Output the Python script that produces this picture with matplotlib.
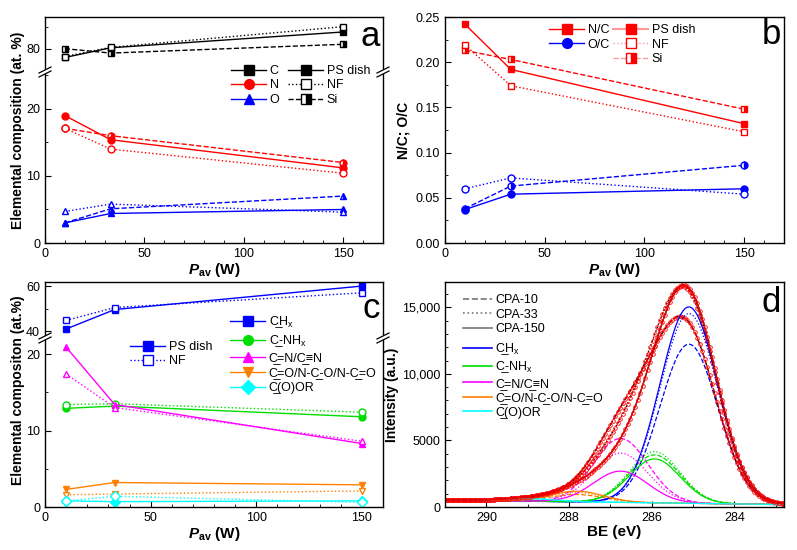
import numpy as np
import matplotlib.pyplot as plt
from matplotlib.lines import Line2D
from matplotlib.patches import Polygon
from matplotlib.ticker import MultipleLocator, FuncFormatter

plt.rcParams['font.family'] = ['Liberation Sans', 'DejaVu Sans']
plt.rcParams['mathtext.fontset'] = 'custom'
plt.rcParams['mathtext.rm'] = 'Liberation Sans'
plt.rcParams['mathtext.it'] = 'Liberation Sans:italic:bold'
plt.rcParams['mathtext.bf'] = 'Liberation Sans:bold'
plt.rcParams['font.size'] = 9

W, H = 797, 550

# ---------------- data ----------------
pav = [10, 33, 150]

# panel a: elemental composition (at. %)
c_ps = [78.0, 80.2, 83.8]
c_nf = [78.2, 80.3, 85.0]
c_si = [80.0, 79.0, 81.0]
n_ps = [19.0, 15.4, 11.2]
n_nf = [17.1, 14.0, 10.4]
n_si = [17.1, 16.0, 12.0]
o_ps = [3.0, 4.4, 5.0]
o_nf = [4.7, 5.8, 4.6]
o_si = [3.0, 5.1, 7.0]

# panel b: ratios
nc_ps = [0.242, 0.192, 0.132]
nc_nf = [0.219, 0.174, 0.123]
nc_si = [0.213, 0.203, 0.148]
oc_ps = [0.037, 0.054, 0.060]
oc_nf = [0.060, 0.072, 0.054]
oc_si = [0.038, 0.063, 0.086]

# panel c: C1s components (at. %)
ch_ps = [41.0, 49.6, 60.0]
ch_nf = [44.8, 50.5, 57.0]
cnh_ps = [12.9, 13.2, 11.8]
cnh_nf = [13.4, 13.5, 12.4]
cn_ps = [20.9, 13.4, 8.3]
cn_nf = [17.4, 13.0, 8.6]
co_ps = [2.3, 3.2, 2.9]
co_nf = [1.6, 1.7, 2.1]
coor_ps = [0.8, 0.7, 0.8]
coor_nf = [0.8, 1.4, 0.6]

# panel d: C1s fits (read peak positions / widths / heights)
samples = ['CPA-10', 'CPA-33', 'CPA-150']
comp_center = [285.1, 285.93, 286.75, 287.8, 289.0]
comp_fwhm = [1.65, 1.45, 1.55, 1.5, 1.5]
comp_height = {
    'CPA-10': [11950, 3600, 4800, 550, 200],
    'CPA-33': [14250, 3850, 3700, 700, 200],
    'CPA-150': [14750, 3300, 2350, 800, 200],
}
bg_high, bg_low = 520, 180  # background at 291 eV and 282.8 eV

# ---------------- helpers ----------------
fig = plt.figure(figsize=(W / 100, H / 100), dpi=100)


def px_axes(x0, y0, x1, y1):
    return fig.add_axes([x0 / W, 1 - y1 / H, (x1 - x0) / W, (y1 - y0) / H])


def style(ax, xminor=10, xmajor=50):
    ax.tick_params(direction='in', which='both', top=False, right=False, labelsize=9)
    ax.tick_params(which='major', length=4)
    ax.tick_params(which='minor', length=2.5)
    if xmajor:
        ax.xaxis.set_major_locator(MultipleLocator(xmajor))
        ax.xaxis.set_minor_locator(MultipleLocator(xminor))
    for s in ax.spines.values():
        s.set_linewidth(1.0)


def brk(x, y):
    f = lambda px, py: (px / W, 1 - py / H)
    poly = Polygon([f(x - 6, y + 5), f(x + 6, y - 1), f(x + 6, y - 5), f(x - 6, y + 1)],
                   closed=True, transform=fig.transFigure, facecolor='white',
                   edgecolor='none', zorder=10)
    fig.add_artist(poly)
    for dy in (0, -4):
        a, b = f(x - 6, y + 5 + dy), f(x + 6, y - 1 + dy)
        fig.add_artist(Line2D([a[0], b[0]], [a[1], b[1]], color='k', lw=0.9,
                              transform=fig.transFigure, zorder=11))


ms = 5
half = dict(fillstyle='right', markerfacecoloralt='white')


def series(ax, y, color, marker, kind, lcolor=None):
    lc = lcolor or color
    if kind == 'ps':
        ax.plot(pav, y, color=lc, ls='-', lw=1, marker=marker, ms=ms, mfc=color, mec=color, clip_on=False)
    elif kind == 'nf':
        ax.plot(pav, y, color=lc, ls=':', lw=1, marker=marker, ms=ms, mfc='white', mec=color, clip_on=False)
    else:
        ax.plot(pav, y, color=lc, ls='--', lw=1, marker=marker, ms=ms, mfc=color, mec=color,
                clip_on=False, **half)


xlab = r'$\mathit{P}_{\mathbf{av}}$ (W)'

# ---------------- panel a ----------------
a_top = px_axes(45, 17, 383, 72)
a_bot = px_axes(45, 72, 383, 243)
a_top.set_ylim(74.7, 87.2)
a_bot.set_ylim(0, 25.5)
for ax in (a_top, a_bot):
    ax.set_xlim(0, 170)
    style(ax)
a_top.spines['bottom'].set_visible(False)
a_bot.spines['top'].set_visible(False)
a_top.tick_params(which='both', bottom=False, labelbottom=False)
a_top.yaxis.set_major_locator(MultipleLocator(10))
a_top.yaxis.set_minor_locator(MultipleLocator(5))
a_bot.yaxis.set_major_locator(MultipleLocator(10))
a_bot.yaxis.set_minor_locator(MultipleLocator(5))

for kind, y in (('si', c_si), ('ps', c_ps), ('nf', c_nf)):
    series(a_top, y, 'black', 's', kind)
for kind, y in (('si', n_si), ('ps', n_ps), ('nf', n_nf)):
    series(a_bot, y, 'red', 'o', kind)
for kind, y in (('si', o_si), ('ps', o_ps), ('nf', o_nf)):
    series(a_bot, y, 'blue', '^', kind)
a_bot.set_xlabel(xlab, fontsize=11, fontweight='bold', labelpad=1)
fig.text(18 / W, 1 - 130 / H, 'Elemental composition (at. %)', rotation=90, ha='center',
         va='center', fontsize=10, fontweight='bold')
fig.text(380 / W, 1 - 37 / H, 'a', fontsize=25, ha='right', va='center')
brk(45, 72)
brk(383, 72)

lm = 7
h1 = [Line2D([], [], color=c, marker=m, ms=lm, ls='-', lw=1) for c, m in
      (('black', 's'), ('red', 'o'), ('blue', '^'))]
h2 = [Line2D([], [], color='k', marker='s', ms=lm, ls='-', lw=1),
      Line2D([], [], color='k', marker='s', ms=lm, ls=':', lw=1, mfc='white'),
      Line2D([], [], color='k', marker='s', ms=lm, ls='--', lw=1, **half)]
leg_kw = dict(frameon=False, fontsize=9, handlelength=2.8, handletextpad=0.3,
              labelspacing=0.2, borderaxespad=0, borderpad=0)
fig.legend(h1, ['C', 'N', 'O'], loc='upper left', bbox_to_anchor=(231 / W, 1 - 65 / H), **leg_kw)
fig.legend(h2, ['PS dish', 'NF', 'Si'], loc='upper left', bbox_to_anchor=(288 / W, 1 - 65 / H), **leg_kw)

# ---------------- panel b ----------------
b = px_axes(445, 17, 784, 243)
b.set_xlim(0, 170)
b.set_ylim(0, 0.25)
style(b)
b.yaxis.set_major_locator(MultipleLocator(0.05))
b.yaxis.set_minor_locator(MultipleLocator(0.025))
b.yaxis.set_major_formatter(FuncFormatter(lambda v, p: f'{v:.2f}'))
for kind, y in (('si', nc_si), ('ps', nc_ps), ('nf', nc_nf)):
    series(b, y, 'red', 's', kind)
for kind, y in (('si', oc_si), ('ps', oc_ps), ('nf', oc_nf)):
    series(b, y, 'blue', 'o', kind)
b.set_xlabel(xlab, fontsize=11, fontweight='bold', labelpad=1)
b.set_ylabel('N/C; O/C', fontsize=10, fontweight='bold', labelpad=4)
fig.text(781 / W, 1 - 35 / H, 'b', fontsize=25, ha='right', va='center')

lr = '#ff9999'
h1 = [Line2D([], [], color='red', marker='s', ms=lm, ls='-', lw=1),
      Line2D([], [], color='blue', marker='o', ms=lm, ls='-', lw=1)]
h2 = [Line2D([], [], color=lr, marker='s', ms=lm, ls='-', lw=1.5, mfc='red', mec='red'),
      Line2D([], [], color=lr, marker='s', ms=lm, ls=':', lw=1, mfc='white', mec='red'),
      Line2D([], [], color=lr, marker='s', ms=lm, ls='--', lw=1, mfc='red', mec='red', **half)]
fig.legend(h1, ['N/C', 'O/C'], loc='upper left', bbox_to_anchor=(549 / W, 1 - 24 / H), **leg_kw)
fig.legend(h2, ['PS dish', 'NF', 'Si'], loc='upper left', bbox_to_anchor=(613 / W, 1 - 24 / H), **leg_kw)

# ---------------- panel c ----------------
c_top = px_axes(45, 282, 383, 338)
c_bot = px_axes(45, 338, 383, 507)
c_top.set_ylim(37, 61.8)
c_bot.set_ylim(0, 22.1)
for ax in (c_top, c_bot):
    ax.set_xlim(0, 160)
    style(ax)
c_top.spines['bottom'].set_visible(False)
c_bot.spines['top'].set_visible(False)
c_top.tick_params(which='both', bottom=False, labelbottom=False)
c_top.yaxis.set_major_locator(MultipleLocator(20))
c_top.yaxis.set_minor_locator(MultipleLocator(10))
c_bot.yaxis.set_major_locator(MultipleLocator(10))
c_bot.yaxis.set_minor_locator(MultipleLocator(5))

comp_colors = ['#0000ff', '#00dd00', '#ff00ff', '#ff8000', '#00ffff']
comp_markers = ['s', 'o', '^', 'v', 'D']
for (ps, nf), col, mk in zip(((cnh_ps, cnh_nf), (cn_ps, cn_nf), (co_ps, co_nf), (coor_ps, coor_nf)),
                             comp_colors[1:], comp_markers[1:]):
    series(c_bot, ps, col, mk, 'ps')
    series(c_bot, nf, col, mk, 'nf')
series(c_top, ch_ps, comp_colors[0], 's', 'ps')
series(c_top, ch_nf, comp_colors[0], 's', 'nf')
c_bot.set_xlabel(xlab, fontsize=11, fontweight='bold', labelpad=1)
fig.text(18 / W, 1 - 390 / H, 'Elemental compositon (at.%)', rotation=90, ha='center',
         va='center', fontsize=10, fontweight='bold')
fig.text(380 / W, 1 - 309 / H, 'c', fontsize=25, ha='right', va='center')
brk(45, 338)
brk(383, 338)

U = '\u0332'
comp_labels = ['C' + U + r'H$_\mathregular{x}$', 'C' + U + r'-NH$_\mathregular{x}$',
               'C' + U + '=N/C' + U + '\u2261N',
               'C' + U + '=O/N-C' + U + '-O/N-C' + U + '=O', 'C' + U + '(O)OR']
hc = [Line2D([], [], color=c, marker=m, ms=lm, ls='-', lw=1) for c, m in zip(comp_colors, comp_markers)]
fig.legend(hc, comp_labels, loc='upper left', bbox_to_anchor=(230 / W, 1 - 314 / H),
           **dict(leg_kw, labelspacing=0.25))
hp = [Line2D([], [], color='blue', marker='s', ms=lm, ls='-', lw=1),
      Line2D([], [], color='blue', marker='s', ms=lm, ls=':', lw=1, mfc='white')]
fig.legend(hp, ['PS dish', 'NF'], loc='upper left', bbox_to_anchor=(130 / W, 1 - 341 / H), **leg_kw)

# ---------------- panel d ----------------
d = px_axes(445, 282, 784, 507)
d.set_xlim(291.0, 282.8)
d.set_ylim(0, 16900)
style(d, xminor=1, xmajor=2)
d.yaxis.set_major_locator(MultipleLocator(5000))
d.yaxis.set_minor_locator(MultipleLocator(1000))
d.yaxis.set_major_formatter(FuncFormatter(lambda v, p: f'{v:,.0f}' if v >= 10000 else f'{v:.0f}'))
d.set_xlabel('BE (eV)', fontsize=11, fontweight='bold', labelpad=1)
d.set_ylabel('Intensity (a.u.)', fontsize=10, fontweight='bold', labelpad=2)
fig.text(781 / W, 1 - 302 / H, 'd', fontsize=25, ha='right', va='center')

be = np.linspace(282.8, 291.0, 400)
be_pts = np.arange(282.8, 291.0, 0.06)
bg = bg_low + (bg_high - bg_low) * (be - 282.8) / (291.0 - 282.8)
bg_pts = bg_low + (bg_high - bg_low) * (be_pts - 282.8) / (291.0 - 282.8)
sample_ls = {'CPA-10': '--', 'CPA-33': ':', 'CPA-150': '-'}


def peak(x, c, w, h):
    return h * np.exp(-4 * np.log(2) * ((x - c) / w) ** 2)


for s in samples:
    ls = sample_ls[s]
    env = bg.copy()
    env_pts = bg_pts.copy()
    for c, w, h, col in zip(comp_center, comp_fwhm, comp_height[s], comp_colors):
        p = peak(be, c, w, h)
        env += p
        env_pts += peak(be_pts, c, w, h)
        d.plot(be, bg + p, color=col, ls=ls, lw=0.9)
    d.plot(be, env, color='black', ls=ls, lw=1.0)
    d.plot(be_pts, env_pts, ls='none', marker='o', ms=2.6, mfc='none', mec='red', mew=0.6)
    d.plot(be, env, color='red', ls=ls, lw=0.8)

hd = [Line2D([], [], color='#777777', ls=sample_ls[s], lw=1.2) for s in samples]
fig.legend(hd, samples, loc='upper left', bbox_to_anchor=(463 / W, 1 - 294 / H),
           **dict(leg_kw, handlelength=2.3))
hd2 = [Line2D([], [], color=c, lw=1.2) for c in comp_colors]
fig.legend(hd2, comp_labels, loc='upper left', bbox_to_anchor=(463 / W, 1 - 341 / H),
           **dict(leg_kw, handlelength=2.3, labelspacing=0.2))

fig.savefig('out.png', dpi=100)
